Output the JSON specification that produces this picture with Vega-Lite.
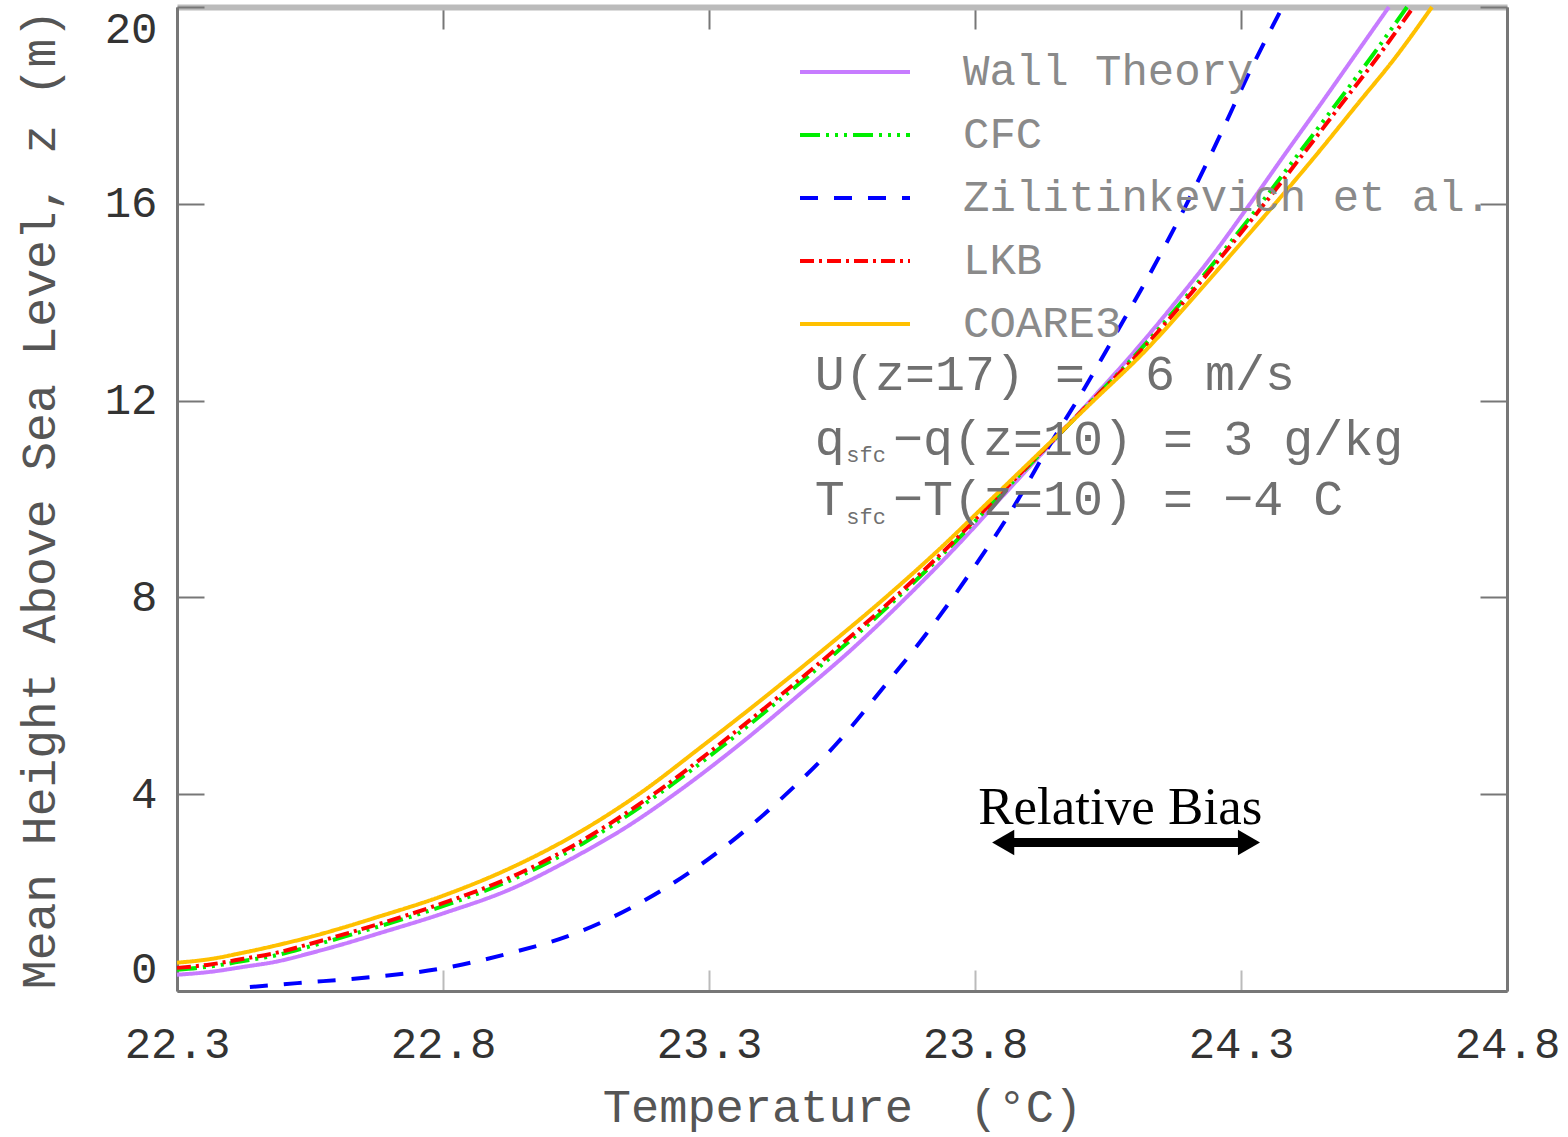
{
  "$schema": "https://vega.github.io/schema/vega-lite/v6.json",
  "width": 1330,
  "height": 984,
  "autosize": {"type": "none"},
  "padding": {"left": 177, "top": 7, "right": 61, "bottom": 146},
  "background": "white",
  "config": {
    "view": {"stroke": null},
    "axis": {"grid": false},
    "legend": {
      "orient": "none",
      "legendX": 656,
      "legendY": 43,
      "symbolType": "M-10,0H10",
      "symbolSize": 121,
      "symbolStrokeWidth": 4,
      "labelFont": "Liberation Mono",
      "labelFontSize": 44,
      "labelColor": "#8a8a8a",
      "labelOffset": 86,
      "labelLimit": 800,
      "rowPadding": 19,
      "padding": 0
    }
  },
  "datasets": {
    "curves": [
      {"model": "Wall Theory", "T": 22.300, "z": 0.33},
      {"model": "Wall Theory", "T": 22.363, "z": 0.39},
      {"model": "Wall Theory", "T": 22.425, "z": 0.49},
      {"model": "Wall Theory", "T": 22.488, "z": 0.60},
      {"model": "Wall Theory", "T": 22.551, "z": 0.77},
      {"model": "Wall Theory", "T": 22.613, "z": 0.955},
      {"model": "Wall Theory", "T": 22.676, "z": 1.16},
      {"model": "Wall Theory", "T": 22.801, "z": 1.58},
      {"model": "Wall Theory", "T": 22.927, "z": 2.07},
      {"model": "Wall Theory", "T": 23.052, "z": 2.75},
      {"model": "Wall Theory", "T": 23.140, "z": 3.3},
      {"model": "Wall Theory", "T": 23.235, "z": 4},
      {"model": "Wall Theory", "T": 23.356, "z": 5},
      {"model": "Wall Theory", "T": 23.467, "z": 6},
      {"model": "Wall Theory", "T": 23.574, "z": 7},
      {"model": "Wall Theory", "T": 23.671, "z": 8},
      {"model": "Wall Theory", "T": 23.762, "z": 9},
      {"model": "Wall Theory", "T": 23.847, "z": 10},
      {"model": "Wall Theory", "T": 23.932, "z": 11},
      {"model": "Wall Theory", "T": 24.017, "z": 12},
      {"model": "Wall Theory", "T": 24.100, "z": 13},
      {"model": "Wall Theory", "T": 24.177, "z": 14},
      {"model": "Wall Theory", "T": 24.250, "z": 15},
      {"model": "Wall Theory", "T": 24.317, "z": 16},
      {"model": "Wall Theory", "T": 24.382, "z": 17},
      {"model": "Wall Theory", "T": 24.448, "z": 18},
      {"model": "Wall Theory", "T": 24.513, "z": 19},
      {"model": "Wall Theory", "T": 24.578, "z": 20},
      {"model": "CFC", "T": 22.300, "z": 0.43},
      {"model": "CFC", "T": 22.363, "z": 0.50},
      {"model": "CFC", "T": 22.425, "z": 0.61},
      {"model": "CFC", "T": 22.488, "z": 0.73},
      {"model": "CFC", "T": 22.551, "z": 0.91},
      {"model": "CFC", "T": 22.613, "z": 1.10},
      {"model": "CFC", "T": 22.676, "z": 1.30},
      {"model": "CFC", "T": 22.801, "z": 1.73},
      {"model": "CFC", "T": 22.927, "z": 2.25},
      {"model": "CFC", "T": 23.063, "z": 3},
      {"model": "CFC", "T": 23.205, "z": 4},
      {"model": "CFC", "T": 23.328, "z": 5},
      {"model": "CFC", "T": 23.442, "z": 6},
      {"model": "CFC", "T": 23.552, "z": 7},
      {"model": "CFC", "T": 23.655, "z": 8},
      {"model": "CFC", "T": 23.751, "z": 9},
      {"model": "CFC", "T": 23.840, "z": 10},
      {"model": "CFC", "T": 23.930, "z": 11},
      {"model": "CFC", "T": 24.020, "z": 12},
      {"model": "CFC", "T": 24.108, "z": 13},
      {"model": "CFC", "T": 24.188, "z": 14},
      {"model": "CFC", "T": 24.264, "z": 15},
      {"model": "CFC", "T": 24.337, "z": 16},
      {"model": "CFC", "T": 24.407, "z": 17},
      {"model": "CFC", "T": 24.477, "z": 18},
      {"model": "CFC", "T": 24.546, "z": 19},
      {"model": "CFC", "T": 24.612, "z": 20},
      {"model": "Zilitinkevich et al.", "T": 22.437, "z": 0.08},
      {"model": "Zilitinkevich et al.", "T": 22.526, "z": 0.16},
      {"model": "Zilitinkevich et al.", "T": 22.663, "z": 0.28},
      {"model": "Zilitinkevich et al.", "T": 22.794, "z": 0.45},
      {"model": "Zilitinkevich et al.", "T": 22.926, "z": 0.77},
      {"model": "Zilitinkevich et al.", "T": 23.046, "z": 1.16},
      {"model": "Zilitinkevich et al.", "T": 23.18, "z": 1.85},
      {"model": "Zilitinkevich et al.", "T": 23.339, "z": 3.01},
      {"model": "Zilitinkevich et al.", "T": 23.439, "z": 3.94},
      {"model": "Zilitinkevich et al.", "T": 23.541, "z": 5.04},
      {"model": "Zilitinkevich et al.", "T": 23.627, "z": 6.16},
      {"model": "Zilitinkevich et al.", "T": 23.710, "z": 7.28},
      {"model": "Zilitinkevich et al.", "T": 23.791, "z": 8.50},
      {"model": "Zilitinkevich et al.", "T": 23.866, "z": 9.72},
      {"model": "Zilitinkevich et al.", "T": 23.935, "z": 11.0},
      {"model": "Zilitinkevich et al.", "T": 24.003, "z": 12.2},
      {"model": "Zilitinkevich et al.", "T": 24.067, "z": 13.4},
      {"model": "Zilitinkevich et al.", "T": 24.135, "z": 14.7},
      {"model": "Zilitinkevich et al.", "T": 24.198, "z": 16.0},
      {"model": "Zilitinkevich et al.", "T": 24.261, "z": 17.4},
      {"model": "Zilitinkevich et al.", "T": 24.317, "z": 18.7},
      {"model": "Zilitinkevich et al.", "T": 24.378, "z": 20},
      {"model": "LKB", "T": 22.300, "z": 0.47},
      {"model": "LKB", "T": 22.363, "z": 0.54},
      {"model": "LKB", "T": 22.425, "z": 0.655},
      {"model": "LKB", "T": 22.488, "z": 0.78},
      {"model": "LKB", "T": 22.551, "z": 0.96},
      {"model": "LKB", "T": 22.613, "z": 1.15},
      {"model": "LKB", "T": 22.676, "z": 1.35},
      {"model": "LKB", "T": 22.801, "z": 1.79},
      {"model": "LKB", "T": 22.927, "z": 2.31},
      {"model": "LKB", "T": 23.052, "z": 3},
      {"model": "LKB", "T": 23.196, "z": 4},
      {"model": "LKB", "T": 23.318, "z": 5},
      {"model": "LKB", "T": 23.433, "z": 6},
      {"model": "LKB", "T": 23.544, "z": 7},
      {"model": "LKB", "T": 23.649, "z": 8},
      {"model": "LKB", "T": 23.747, "z": 9},
      {"model": "LKB", "T": 23.838, "z": 10},
      {"model": "LKB", "T": 23.929, "z": 11},
      {"model": "LKB", "T": 24.020, "z": 12},
      {"model": "LKB", "T": 24.111, "z": 13},
      {"model": "LKB", "T": 24.192, "z": 14},
      {"model": "LKB", "T": 24.269, "z": 15},
      {"model": "LKB", "T": 24.344, "z": 16},
      {"model": "LKB", "T": 24.416, "z": 17},
      {"model": "LKB", "T": 24.487, "z": 18},
      {"model": "LKB", "T": 24.558, "z": 19},
      {"model": "LKB", "T": 24.624, "z": 20},
      {"model": "COARE3", "T": 22.300, "z": 0.575},
      {"model": "COARE3", "T": 22.363, "z": 0.65},
      {"model": "COARE3", "T": 22.425, "z": 0.78},
      {"model": "COARE3", "T": 22.488, "z": 0.93},
      {"model": "COARE3", "T": 22.551, "z": 1.10},
      {"model": "COARE3", "T": 22.613, "z": 1.29},
      {"model": "COARE3", "T": 22.676, "z": 1.50},
      {"model": "COARE3", "T": 22.801, "z": 1.94},
      {"model": "COARE3", "T": 22.927, "z": 2.50},
      {"model": "COARE3", "T": 23.052, "z": 3.2},
      {"model": "COARE3", "T": 23.168, "z": 4},
      {"model": "COARE3", "T": 23.290, "z": 5},
      {"model": "COARE3", "T": 23.408, "z": 6},
      {"model": "COARE3", "T": 23.522, "z": 7},
      {"model": "COARE3", "T": 23.632, "z": 8},
      {"model": "COARE3", "T": 23.735, "z": 9},
      {"model": "COARE3", "T": 23.831, "z": 10},
      {"model": "COARE3", "T": 23.927, "z": 11},
      {"model": "COARE3", "T": 24.023, "z": 12},
      {"model": "COARE3", "T": 24.119, "z": 13},
      {"model": "COARE3", "T": 24.203, "z": 14},
      {"model": "COARE3", "T": 24.284, "z": 15},
      {"model": "COARE3", "T": 24.364, "z": 16},
      {"model": "COARE3", "T": 24.442, "z": 17},
      {"model": "COARE3", "T": 24.517, "z": 18},
      {"model": "COARE3", "T": 24.592, "z": 19},
      {"model": "COARE3", "T": 24.659, "z": 20}
    ],
    "arrow": [{"T1": 23.853, "T2": 24.315, "z": 3.02}],
    "heads": [
      {"dir": "left", "T": 23.853, "z": 3.02},
      {"dir": "right", "T": 24.315, "z": 3.02}
    ],
    "notes": [
      {"label": "U(z=17)\u00a0=\u00a0\u00a06\u00a0m/s", "T": 23.499, "z": 12.52},
      {"label": "q", "T": 23.499, "z": 11.20},
      {"label": "−q(z=10)\u00a0=\u00a03\u00a0g/kg", "T": 23.646, "z": 11.20},
      {"label": "T", "T": 23.499, "z": 9.98},
      {"label": "−T(z=10)\u00a0=\u00a0−4\u00a0C", "T": 23.646, "z": 9.98}
    ],
    "subs": [
      {"label": "sfc", "T": 23.558, "z": 10.89},
      {"label": "sfc", "T": 23.558, "z": 9.63}
    ],
    "bias": [{"label": "Relative Bias", "T": 24.073, "z": 3.72}]
  },
  "layer": [
    {
      "data": {"name": "curves"},
      "mark": {"type": "line", "strokeWidth": 4, "interpolate": "monotone"},
      "encoding": {
        "x": {
          "field": "T", "type": "quantitative",
          "scale": {"domain": [22.3, 24.8], "nice": false, "zero": false},
          "axis": {
            "orient": "bottom",
            "values": [22.3, 22.8, 23.3, 23.8, 24.3, 24.8],
            "format": ".1f",
            "tickSize": -21, "tickColor": "#bbbbbb", "tickWidth": 2,
            "domainColor": "#777777", "domainWidth": 3,
            "labelFont": "Liberation Mono", "labelFontSize": 44, "labelColor": "#333333",
            "labelPadding": 52, "labelFlush": false, "labelOverlap": false,
            "title": "Temperature\u00a0\u00a0(°C)",
            "titleFont": "Liberation Mono", "titleFontSize": 47, "titleFontWeight": "normal",
            "titleColor": "#555555", "titlePadding": 18
          }
        },
        "y": {
          "field": "z", "type": "quantitative",
          "scale": {"domain": [0, 20], "nice": false},
          "axis": {
            "orient": "left",
            "values": [0, 4, 8, 12, 16, 20],
            "tickSize": -27, "tickColor": "#777777", "tickWidth": 2,
            "domainColor": "#777777", "domainWidth": 3,
            "labelFont": "Liberation Mono", "labelFontSize": 44, "labelColor": "#333333",
            "labelPadding": 47, "labelFlush": true, "labelOverlap": false,
            "title": "Mean Height Above Sea Level, z (m)",
            "titleFont": "Liberation Mono", "titleFontSize": 48, "titleFontWeight": "normal",
            "titleColor": "#555555", "titlePadding": 40
          }
        },
        "color": {
          "field": "model", "type": "nominal",
          "scale": {
            "domain": ["Wall Theory", "CFC", "Zilitinkevich et al.", "LKB", "COARE3"],
            "range": ["#c77cff", "#00ee00", "#0000ff", "#ff0000", "#ffc000"]
          },
          "legend": {"title": null}
        },
        "strokeDash": {
          "field": "model", "type": "nominal",
          "scale": {
            "domain": ["Wall Theory", "CFC", "Zilitinkevich et al.", "LKB", "COARE3"],
            "range": [[1, 0], [20, 6, 3, 6, 3, 6, 3, 6], [18, 16], [14, 5, 3, 5], [1, 0]]
          },
          "legend": {"title": null}
        },
        "order": {"field": "z", "type": "quantitative"}
      }
    },
    {
      "data": {"name": "arrow"},
      "mark": {"type": "rule", "strokeWidth": 9, "color": "black"},
      "encoding": {
        "x": {
          "field": "T1", "type": "quantitative",
          "axis": {
            "orient": "top", "values": [22.3, 22.8, 23.3, 23.8, 24.3, 24.8],
            "labels": false, "title": null,
            "tickSize": -22, "tickColor": "#777777", "tickWidth": 2,
            "domainColor": "#bbbbbb", "domainWidth": 6
          }
        },
        "x2": {"field": "T2"},
        "y": {
          "field": "z", "type": "quantitative",
          "axis": {
            "orient": "right", "values": [0, 4, 8, 12, 16, 20],
            "labels": false, "title": null,
            "tickSize": -27, "tickColor": "#777777", "tickWidth": 2,
            "domainColor": "#777777", "domainWidth": 3
          }
        }
      }
    },
    {
      "data": {"name": "heads"},
      "mark": {"type": "point", "filled": true, "color": "black", "opacity": 1, "size": 650},
      "encoding": {
        "x": {"field": "T", "type": "quantitative", "axis": null},
        "y": {"field": "z", "type": "quantitative", "axis": null},
        "shape": {
          "field": "dir", "type": "nominal",
          "scale": {"domain": ["left", "right"], "range": ["triangle-left", "triangle-right"]},
          "legend": null
        }
      }
    },
    {
      "data": {"name": "notes"},
      "mark": {"type": "text", "align": "left", "baseline": "middle", "font": "Liberation Mono", "fontSize": 50, "color": "#707070"},
      "encoding": {
        "x": {"field": "T", "type": "quantitative", "axis": null},
        "y": {"field": "z", "type": "quantitative", "axis": null},
        "text": {"field": "label"}
      }
    },
    {
      "data": {"name": "subs"},
      "mark": {"type": "text", "align": "left", "baseline": "middle", "font": "Liberation Mono", "fontSize": 22, "color": "#707070"},
      "encoding": {
        "x": {"field": "T", "type": "quantitative", "axis": null},
        "y": {"field": "z", "type": "quantitative", "axis": null},
        "text": {"field": "label"}
      }
    },
    {
      "data": {"name": "bias"},
      "mark": {"type": "text", "align": "center", "baseline": "middle", "font": "Liberation Serif", "fontSize": 53, "color": "black"},
      "encoding": {
        "x": {"field": "T", "type": "quantitative", "axis": null},
        "y": {"field": "z", "type": "quantitative", "axis": null},
        "text": {"field": "label"}
      }
    }
  ],
  "resolve": {"axis": {"x": "independent", "y": "independent"}}
}
